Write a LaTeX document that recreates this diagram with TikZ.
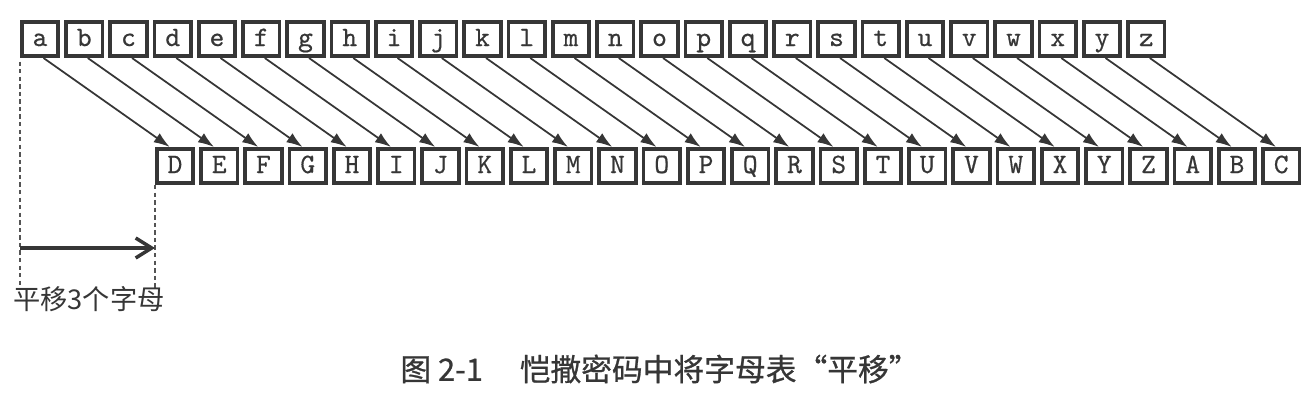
\documentclass[tikz,border=0pt]{standalone}
\usepackage{fontspec}
\usetikzlibrary{arrows.meta,positioning,calc}
\newfontfamily\cjk{Noto Sans CJK SC}
\newfontfamily\cjkcap[FakeBold=0.8]{Noto Sans CJK SC}
\newfontfamily\csmono[FakeBold=0.5]{lmmono10-regular.otf}
\definecolor{csgray}{HTML}{363636}
\tikzset{
  csbox/.style={draw=csgray, line width=2pt, minimum width=0.73cm, minimum height=0.69cm, inner sep=0pt,
    text height=9pt, text depth=1pt, text=csgray, font=\csmono\fontsize{16}{18}\selectfont},
  csarrow/.style={-{Latex[length=3.2mm,width=2.2mm]}, draw=csgray, line width=1pt},
  csshift/.style={-{Straight Barb[length=3.2mm,width=4mm]}, draw=csgray, line width=2pt},
  csguide/.style={draw=csgray!85, line width=0.9pt, dash pattern=on 2.5pt off 1.8pt},
  cslabel/.style={font=\cjk\fontsize{15.5}{17}\selectfont, text=csgray},
}

\begin{document}
\begin{tikzpicture}
  \useasboundingbox (0,0) rectangle (26.32,-8.12);

  % plain alphabet on top, shifted alphabet below
  \foreach \p/\c [count=\i from 0] in {a/D,b/E,c/F,d/G,e/H,f/I,g/J,h/K,i/L,j/M,k/N,l/O,m/P,
      n/Q,o/R,p/S,q/T,r/U,s/V,t/W,u/X,v/Y,w/Z,x/A,y/B,z/C} {
    \node[csbox] (p\p) at (0.8+0.885*\i,-0.78) {\p};
    \node[csbox] (c\c) at (3.5+0.885*\i,-3.32) {\c};
    \draw[csarrow] ([xshift=2pt]p\p.south) -- ([xshift=-3pt]c\c.north);
  }

  % shift of three letters
  \coordinate (lgtop) at ([yshift=-2pt]pa.south west);
  \coordinate (lgbot) at (pa.south west |- 0,-5.8);
  \coordinate (rgbot) at (cD.south west |- 0,-5.8);
  \coordinate (shiftfrom) at (lgbot |- 0,-4.96);
  \coordinate (shiftto) at (rgbot |- 0,-4.96);
  \draw[csguide] (lgtop) -- (lgbot);
  \draw[csguide] (cD.south west) -- (rgbot);
  \draw[csshift] (shiftfrom) -- (shiftto);
  \node[cslabel] (shiftlabel) at (1.78,-5.98) {平移3个字母};

  \node[font=\cjkcap\fontsize{17.5}{20}\selectfont, text=csgray] (caption) at (13.2,-7.38)
    {图 2-1\hspace{1.2em}恺撒密码中将字母表“平移”};
\end{tikzpicture}
\end{document}
